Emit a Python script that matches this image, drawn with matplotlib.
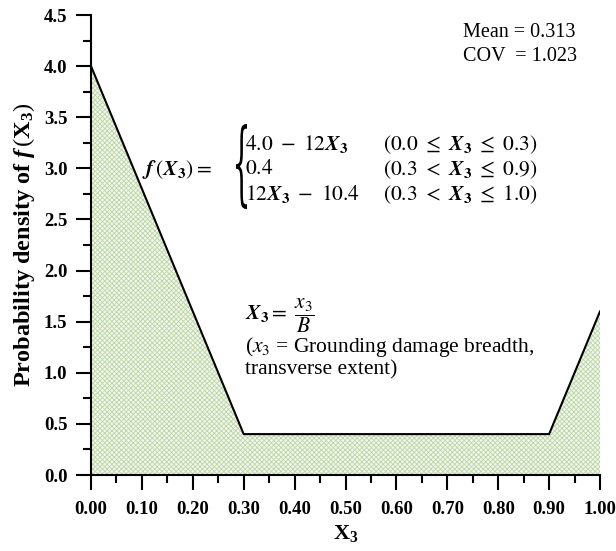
import matplotlib
matplotlib.use('Agg')
import matplotlib.pyplot as plt
from matplotlib.ticker import MultipleLocator, FormatStrFormatter
from matplotlib.textpath import TextPath
from matplotlib.patches import PathPatch
from matplotlib.font_manager import FontProperties
from matplotlib.transforms import Affine2D, IdentityTransform

plt.rcParams['font.family'] = ['Liberation Serif', 'DejaVu Serif']
plt.rcParams['mathtext.fontset'] = 'custom'
plt.rcParams['mathtext.rm'] = 'Liberation Serif'
plt.rcParams['mathtext.it'] = 'Liberation Serif:italic'
plt.rcParams['mathtext.bf'] = 'Liberation Serif:bold'
plt.rcParams['mathtext.bfit'] = 'Liberation Serif:bold:italic'
plt.rcParams['hatch.linewidth'] = 0.6

# 概率密度折线的节点
x3_pts = [0.0, 0.3, 0.9, 1.0]
pdf_pts = [4.0, 0.4, 0.4, 1.6]

mean_txt = 'Mean = 0.313'
cov_txt = 'COV  = 1.023'

fig = plt.figure(figsize=(6.16, 5.51), dpi=100)
ax = fig.add_axes([91 / 616, 76 / 551, 509 / 616, 460 / 551])

ax.fill_between(x3_pts, pdf_pts, 0, facecolor='#f1f7ec', edgecolor='#bcd6a6',
                hatch='xxxxxxx', linewidth=0)
ax.plot(x3_pts, pdf_pts, color='black', lw=1.5)

ax.set_xlim(0, 1.0)
ax.set_ylim(0, 4.5)
ax.xaxis.set_major_locator(MultipleLocator(0.1))
ax.xaxis.set_minor_locator(MultipleLocator(0.05))
ax.yaxis.set_major_locator(MultipleLocator(0.5))
ax.yaxis.set_minor_locator(MultipleLocator(0.25))
ax.xaxis.set_major_formatter(FormatStrFormatter('%.2f'))
ax.yaxis.set_major_formatter(FormatStrFormatter('%.1f'))

for s in ['top', 'right']:
    ax.spines[s].set_visible(False)
for s in ['left', 'bottom']:
    ax.spines[s].set_linewidth(1.5)
ax.tick_params(which='major', direction='out', length=11, width=1.5, labelsize=13.5)
ax.tick_params(axis='x', which='major', pad=8)
ax.tick_params(axis='y', which='major', pad=6)
ax.tick_params(which='minor', direction='out', length=5.5, width=1.5)
for lab in ax.get_xticklabels() + ax.get_yticklabels():
    lab.set_fontweight('bold')

ax.set_xlabel(r'$\mathbf{X}_\mathbf{3}$', fontsize=16, labelpad=3)
ax.set_ylabel(r'Probability density of $\mathbfit{f}\,(\mathbf{X}_\mathbf{3})$',
              fontsize=17.5, fontweight='bold', labelpad=5)

# 均值和变异系数
ax.text(0.731, 4.33, mean_txt, fontsize=14.5, va='center', ha='left')
ax.text(0.731, 4.09, cov_txt, fontsize=14.5, va='center', ha='left')

# 分段函数
eq_kw = dict(fontsize=15.5, va='center', math_fontfamily='stix')
X3 = r'\mathbfit{X}_{\mathbf{3}}'
ax.text(0.100, 2.99, r'$\mathbfit{f}\,(' + X3 + r')=$', ha='left', **eq_kw)
ax.text(0.303, 3.235, r'$4.0\ -\ 12' + X3 + r'$', ha='left', **eq_kw)
ax.text(0.303, 2.99, r'$0.4$', ha='left', **eq_kw)
ax.text(0.303, 2.745, r'$12' + X3 + r'\ -\ 10.4$', ha='left', **eq_kw)
ax.text(0.878, 3.235, r'$(0.0\ \leq\ ' + X3 + r'\ \leq\ 0.3)$', ha='right', **eq_kw)
ax.text(0.878, 2.99, r'$(0.3\ <\ ' + X3 + r'\ \leq\ 0.9)$', ha='right', **eq_kw)
ax.text(0.878, 2.745, r'$(0.3\ <\ ' + X3 + r'\ \leq\ 1.0)$', ha='right', **eq_kw)

# 大括号
tp = TextPath((0, 0), '{', size=20, prop=FontProperties(family='DejaVu Serif'))
bb = tp.get_extents()
tx0, tx1, ty0, ty1 = 236, 247, 551 - 209, 551 - 124
tr = (Affine2D().translate(-bb.x0, -bb.y0)
      .scale((tx1 - tx0) / bb.width, (ty1 - ty0) / bb.height)
      .translate(tx0, ty0))
fig.patches.append(PathPatch(tr.transform_path(tp), transform=IdentityTransform(),
                             facecolor='black', edgecolor='none', figure=fig))

# X3 的定义
ax.text(0.303, 1.56, r'$' + X3 + r'=\ \dfrac{x_3}{B}$', ha='left', **eq_kw)
ax.text(0.303, 1.255, r'($x_3$ = Grounding damage breadth,', fontsize=15.5,
        ha='left', va='center', math_fontfamily='stix')
ax.text(0.303, 1.03, 'transverse extent)', fontsize=15.5, ha='left', va='center')

fig.savefig('out.png', dpi=100, facecolor='white')
